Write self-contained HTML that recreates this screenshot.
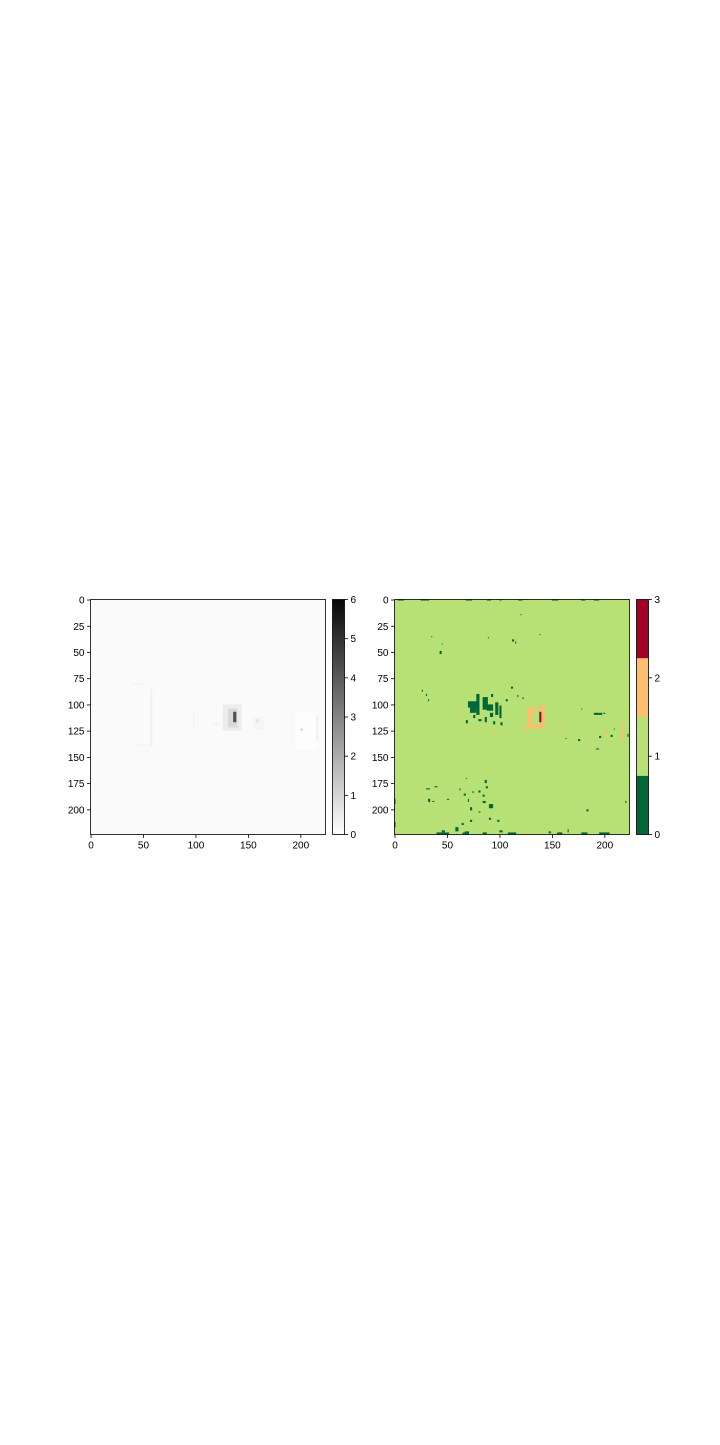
<!DOCTYPE html>
<html><head><meta charset="utf-8"><style>
body{margin:0;background:#fff;}
svg text{font-family:"Liberation Sans",sans-serif;font-size:10px;fill:#000;}
</style></head><body>
<svg id="fig" width="720" height="1440"></svg>
<script>
const N = 224;
const xTicks = [0,50,100,150,200];
const yTicks = [0,25,50,75,100,125,150,175,200];
const greyCbTicks = [0,1,2,3,4,5,6];
const classCbTicks = [0,1,2,3];
const classColors = ["#006837","#b7e075","#fdbe6e","#a50026"];
const greyBackground = 0.12;
// left heatmap features: [x, y, w, h, value]
const greyFeatures = [
 [40,80,16,1,0.3],[40,138,16,1,0.3],[57,85,2,55,0.4],[126,100,18,25,0.45],[131,104,9,18,0.9],[136,107,3,10,4.2],
 [98,105,1,20,0.35],[155,112,10,12,0.25],[158,114,2,4,0.7],[195,108,22,35,0.04],[200,123,2,2,1.2],
 [215,110,2,25,0.3],[118,118,4,2,0.4]
];
// right heatmap: background class 1; cells [x, y, w, h, class]
const classCells = [
 [70,97,10,6,0],[72,103,6,5,0],[78,90,3,20,0],[84,93,5,12,0],[88,100,6,6,0],[91,108,3,4,0],[96,98,3,12,0],
 [100,101,2,12,0],[75,110,2,3,0],[80,114,3,2,0],[86,112,2,5,0],[94,116,2,3,0],[101,117,2,3,0],[68,115,2,3,0],
 [92,90,2,3,0],[106,95,2,2,0],[111,83,2,2,0],[117,91,1,2,0],[122,93,1,2,0],[26,86,1,2,0],[30,90,1,2,0],[32,95,1,2,0],
 [43,49,2,3,0],[45,42,1,1,0],[35,35,1,1,0],[89,36,1,1,0],[112,38,2,2,0],[115,40,1,2,0],[138,33,1,1,0],[120,14,1,1,0],
 [3,0,6,1,0],[25,0,8,1,0],[68,0,6,1,0],[88,0,4,1,0],[100,0,2,1,0],[118,0,4,1,0],[150,0,6,1,0],[178,0,4,1,0],[190,0,5,1,0],
 [30,180,4,1,0],[38,178,3,1,0],[32,190,2,3,0],[36,192,2,1,0],[50,190,2,1,0],[62,180,1,2,0],[66,185,2,2,0],[68,170,1,1,0],
 [70,190,1,3,0],[72,198,2,3,0],[74,183,2,1,0],[80,182,2,2,0],[84,186,2,2,0],[86,172,2,3,0],[87,178,2,2,0],[84,192,3,2,0],
 [90,195,4,4,0],[80,202,2,1,0],[64,213,2,2,0],[72,210,2,2,0],[90,208,2,2,0],[98,210,2,2,0],[100,220,3,2,0],
 [58,217,3,4,0],[45,220,3,2,0],[67,221,4,2,0],[0,190,1,5,0],[0,212,1,5,0],
 [40,222,12,2,0],[65,222,6,2,0],[84,222,4,2,0],[108,222,8,2,0],[155,222,5,2,0],[178,222,6,2,0],[195,222,10,2,0],
 [183,200,2,2,0],[165,219,1,3,0],[147,221,2,2,0],[190,108,8,2,0],[199,108,2,1,0],[178,104,1,1,0],[195,130,2,2,0],
 [206,129,2,2,0],[209,123,1,1,0],[192,142,3,1,0],[175,133,2,2,0],[163,132,1,1,0],[220,192,1,2,0],[222,128,1,3,0],
 [127,103,4,20,2],[127,103,16,2,2],[140,100,3,24,2],[127,119,16,4,2],[123,121,4,3,2],[131,104,2,6,2],
 [60,102,1,6,2],[57,95,1,1,2],[60,130,1,3,2],[95,126,1,2,2],[155,118,3,1,2],[160,120,1,3,2],[201,124,2,4,2],[217,117,1,18,2],
 [138,107,2,10,3]
];
const greyCmap = v => { const t = Math.max(0,Math.min(1,v/6)); const c = Math.round(255 - t*255*0.97); return `rgb(${c},${c},${c})`; };
const NS = "http://www.w3.org/2000/svg";
const svg = document.getElementById('fig');
function mk(tag, attrs, parent){ const e=document.createElementNS(NS,tag); for(const k in attrs) e.setAttribute(k,attrs[k]); (parent||svg).appendChild(e); return e; }

function panel(x0, y0, size, prefix){
  const g = mk('g',{});
  
  
  return {g, cell:(x,y,w,h)=>[x0+x/N*size, y0+y/N*size, w/N*size, h/N*size]};
}
function axes(x0,y0,size,prefix){
  const sx = v => x0 + (v+0.5)/N*size;
  const sy = v => y0 + (v+0.5)/N*size;
  const f = mk('rect',{x:x0,y:y0,width:size,height:size,fill:'none',stroke:'#000','stroke-width':0.8});
  
  
  xTicks.forEach(t=>{
    mk('line',{x1:sx(t),x2:sx(t),y1:y0+size,y2:y0+size+3.5,stroke:'#000','stroke-width':0.8});
    const tx = mk('text',{x:sx(t),y:y0+size+14,'text-anchor':'middle'}); tx.textContent=t;
    
    
  });
  yTicks.forEach(t=>{
    mk('line',{x1:x0-3.5,x2:x0,y1:sy(t),y2:sy(t),stroke:'#000','stroke-width':0.8});
    const tx = mk('text',{x:x0-6,y:sy(t)+3.5,'text-anchor':'end'}); tx.textContent=t;
    
    
  });
}
const L = {x:90.5,y:599.5,s:235};
const p1 = panel(L.x,L.y,L.s,'intensity');
mk('rect',{x:L.x,y:L.y,width:L.s,height:L.s,fill:greyCmap(greyBackground)},p1.g);
greyFeatures.forEach(f=>{ const c=p1.cell(f[0],f[1],f[2],f[3]); const e=mk('rect',{x:c[0],y:c[1],width:c[2],height:c[3],fill:greyCmap(f[4])},p1.g);
    });
axes(L.x,L.y,L.s,'intensity');
const cb1 = {x:332.5,y:599.5,w:12,h:235};
const defs = mk('defs',{});
const grad = mk('linearGradient',{id:'gg',x1:0,y1:1,x2:0,y2:0},defs);
mk('stop',{offset:0,'stop-color':greyCmap(0)},grad); mk('stop',{offset:1,'stop-color':greyCmap(6)},grad);
const cbr = mk('rect',{x:cb1.x,y:cb1.y,width:cb1.w,height:cb1.h,fill:'url(#gg)',stroke:'#000','stroke-width':0.8});
 
greyCbTicks.forEach(t=>{ const y=cb1.y+cb1.h-t/6*cb1.h;
  mk('line',{x1:cb1.x+cb1.w,x2:cb1.x+cb1.w+3.5,y1:y,y2:y,stroke:'#000','stroke-width':0.8});
  const tx=mk('text',{x:cb1.x+cb1.w+6,y:y+3.5}); tx.textContent=t;
    });
const R = {x:394.5,y:599.5,s:235};
const p2 = panel(R.x,R.y,R.s,'class');
mk('rect',{x:R.x,y:R.y,width:R.s,height:R.s,fill:classColors[1]},p2.g);
classCells.forEach(f=>{ const c=p2.cell(f[0],f[1],f[2],f[3]); const e=mk('rect',{x:c[0],y:c[1],width:c[2],height:c[3],fill:classColors[f[4]]},p2.g);
    });
axes(R.x,R.y,R.s,'class');
const cb2 = {x:636.5,y:599.5,w:12,h:235};
classColors.forEach((c,i)=>{ const h=cb2.h/4; const e=mk('rect',{x:cb2.x,y:cb2.y+cb2.h-(i+1)*h,width:cb2.w,height:h,fill:c});
    });
const f2=mk('rect',{x:cb2.x,y:cb2.y,width:cb2.w,height:cb2.h,fill:'none',stroke:'#000','stroke-width':0.8});
 
classCbTicks.forEach(t=>{ const y=cb2.y+cb2.h-t/3*cb2.h;
  mk('line',{x1:cb2.x+cb2.w,x2:cb2.x+cb2.w+3.5,y1:y,y2:y,stroke:'#000','stroke-width':0.8});
  const tx=mk('text',{x:cb2.x+cb2.w+6,y:y+3.5}); tx.textContent=t;
    });
</script>
</body></html>
